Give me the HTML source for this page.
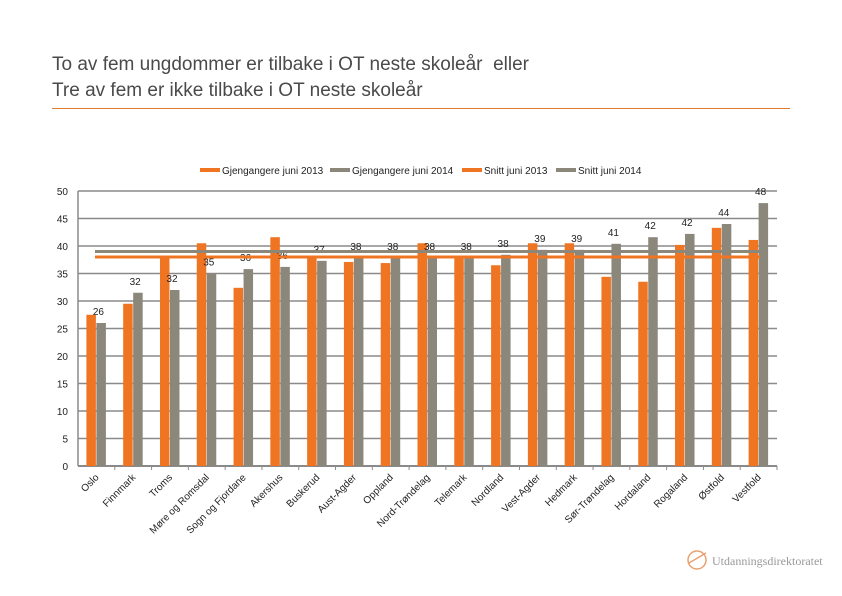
<!DOCTYPE html>
<html><head><meta charset="utf-8">
<style>
html,body{margin:0;padding:0;background:#fff;}
body{width:842px;height:596px;overflow:hidden;position:relative;font-family:"Liberation Sans",sans-serif;}
#title{position:absolute;left:52px;top:52px;font-size:19px;line-height:26px;color:#4a4a4a;}
#rule{position:absolute;left:52px;top:108px;width:738px;height:1px;background:#e07a2e;}
</style></head>
<body>
<div id="title">To av fem ungdommer er tilbake i OT neste skoleår&nbsp; eller<br>Tre av fem er ikke tilbake i OT neste skoleår</div>
<div id="rule"></div>
<svg id="chart" width="842" height="596" style="position:absolute;left:0;top:0"></svg>
<script>
const categories=["Oslo","Finnmark","Troms","Møre og Romsdal","Sogn og Fjordane","Akershus","Buskerud","Aust-Agder","Oppland","Nord-Trøndelag","Telemark","Nordland","Vest-Agder","Hedmark","Sør-Trøndelag","Hordaland","Rogaland","Østfold","Vestfold"];
const values2013=[27.5,29.5,38,40.5,32.4,41.6,38,37.1,36.9,40.5,38,36.5,40.5,40.5,34.4,33.5,40.2,43.3,41.1];
const values2014=[26,31.5,32,35,35.8,36.2,37.3,37.8,37.8,37.8,37.8,38.4,39.3,39.3,40.4,41.6,42.2,44,47.8];
const labels2014=["26","32","32","35","36","36","37","38","38","38","38","38","39","39","41","42","42","44","48"];
const avg2013=38, avg2014=39;
const yTicks=[0,5,10,15,20,25,30,35,40,45,50];
const legendLabels=["Gjengangere juni 2013","Gjengangere juni 2014","Snitt juni 2013","Snitt juni 2014"];

const NS="http://www.w3.org/2000/svg";
const svg=document.getElementById('chart');
const X0=78,X1=777,Y0=466,Y1=191,YMAX=50;
const step=(X1-X0)/categories.length;
const y=v=>Y0-(v/YMAX)*(Y0-Y1);
const xc=i=>X0+step*i+step/2;
const OR="#f07522",GR="#8c877b";
function el(t,a){const e=document.createElementNS(NS,t);for(const k in a)e.setAttribute(k,a[k]);svg.appendChild(e);return e;}

yTicks.forEach(t=>{
  const g=el('line',{x1:X0,x2:X1,y1:y(t),y2:y(t),stroke:'#8a8a8a','stroke-width':t===0?2:1.5});
  
  
  const tl=el('text',{x:68,y:y(t)+4,'text-anchor':'end','font-size':10,fill:'#222'});
  tl.textContent=t;
  
  
});
const ax=el('line',{x1:X0,x2:X0,y1:Y1,y2:Y0,stroke:'#8a8a8a','stroke-width':1.5});



categories.forEach((c,i)=>{
  const cx=xc(i);
  const b1=el('rect',{x:cx-10,y:y(values2013[i]),width:9.5,height:Y0-y(values2013[i]),fill:OR});
  
  
  const b2=el('rect',{x:cx,y:y(values2014[i]),width:9.5,height:Y0-y(values2014[i]),fill:GR});
  
  
  const vl=el('text',{x:cx+2,y:y(values2014[i])-8,'text-anchor':'middle','font-size':10,fill:'#222'});
  vl.textContent=labels2014[i];
  
  
  const tk=el('line',{x1:X0+step*(i+1),x2:X0+step*(i+1),y1:Y0,y2:Y0+4,stroke:'#8a8a8a'});
  
  
  const lx=cx+3,ly=Y0+12;
  const cl=el('text',{x:lx,y:ly,'text-anchor':'end','font-size':10,fill:'#222',transform:`rotate(-45 ${lx} ${ly})`});
  cl.textContent=c;
  
  
});
const l14=el('line',{x1:95,x2:760,y1:y(avg2014),y2:y(avg2014),stroke:GR,'stroke-width':3});


const l13=el('line',{x1:95,x2:760,y1:y(avg2013),y2:y(avg2013),stroke:OR,'stroke-width':3});



const lx=[200,330,462,556], lc=[OR,GR,OR,GR];
legendLabels.forEach((t,i)=>{
  const m=el('rect',{x:lx[i],y:168,width:20,height:4,fill:lc[i]});
  
  
  const tx=el('text',{x:lx[i]+22,y:174,'font-size':10,fill:'#222'});
  tx.textContent=t;
  
  
});
const c=el('circle',{cx:697,cy:560,r:9,fill:'none',stroke:'#e8a070','stroke-width':1.5});


const ll=el('line',{x1:689,y1:563,x2:706,y2:553,stroke:'#e8a070','stroke-width':1.5});


const lt=el('text',{x:712,y:565,'font-size':12,fill:'#999','font-family':'Liberation Serif, serif'});
lt.textContent='Utdanningsdirektoratet';


</script>
</body></html>
